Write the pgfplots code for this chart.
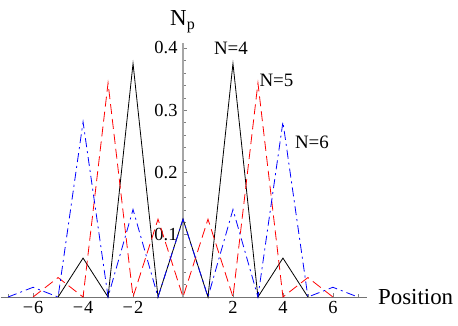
\documentclass[border=0pt]{standalone}
\usepackage{fontspec}
\setmainfont{Liberation Serif}
\usepackage{pgfplots}
\pgfplotsset{compat=1.18}
\begin{document}
\begin{tikzpicture}
\begin{axis}[
  anchor=origin, at={(0,0)},
  scale only axis, width=366bp, height=254bp,
  xmin=-7.3, xmax=7.35, ymin=0, ymax=0.408,
  axis lines=middle,
  axis line style={-},
  x axis line style={draw=black!55, line width=0.8bp},
  y axis line style={draw=black!35, line width=1.2bp},
  every tick/.style={draw=black!50, line width=0.5bp},
  major tick length=4bp, minor tick length=2.5bp,
  tick align=inside,
  xtick={-6,-4,-2,2,4,6},
  xticklabels={−\kern1pt6,−\kern1pt4,−\kern1pt2,2,4,6},
  minor xtick={-7,-5,-3,-1,1,3,5,7},
  ytick={0.1,0.2,0.3,0.4},
  yticklabels={0.1,0.2,0.3,0.4},
  minor ytick={0.02,0.04,0.06,0.08,0.12,0.14,0.16,0.18,0.22,0.24,0.26,0.28,0.32,0.34,0.36,0.38},
  xticklabel style={font=\fontsize{18.5}{20}\selectfont, anchor=north, yshift=-1bp},
  yticklabel style={font=\fontsize{18.5}{20}\selectfont, anchor=east, xshift=-2bp},
  clip=false,
]
\addplot[black, line width=0.8bp] coordinates {
(-5,0) (-4,0.0625) (-3,0) (-2,0.375) (-1,0) (0,0.125) (1,0) (2,0.375) (3,0) (4,0.0625) (5,0)};
\addplot[red, line width=0.8bp, dash pattern=on 10bp off 5bp] coordinates {
(-6,0) (-5,0.03125) (-4,0) (-3,0.34375) (-2,0) (-1,0.125) (0,0) (1,0.125) (2,0) (3,0.34375) (4,0) (5,0.03125) (6,0)};
\addplot[blue, line width=0.8bp, dash pattern=on 9bp off 4bp on 2bp off 4bp] coordinates {
(-7,0) (-6,0.015625) (-5,0) (-4,0.28125) (-3,0) (-2,0.140625) (-1,0) (0,0.125) (1,0) (2,0.140625) (3,0) (4,0.28125) (5,0) (6,0.015625) (7,0)};
\node[font=\fontsize{19}{21}\selectfont] at (axis cs:1.92,0.399) {N=4};
\node[font=\fontsize{19}{21}\selectfont] at (axis cs:3.74,0.348) {N=5};
\node[font=\fontsize{19}{21}\selectfont] at (axis cs:5.16,0.248) {N=6};
\node[font=\fontsize{23}{25}\selectfont, anchor=base west, inner sep=0pt] at (axis cs:7.8,-0.0128) {Position};
\node[font=\fontsize{23}{25}\selectfont, anchor=base west, inner sep=0pt] at (axis cs:-0.52,0.436) {N\textsubscript{p}};
\end{axis}
\pgfresetboundingbox
\path[use as bounding box] (-183bp,-29bp) rectangle (275bp,297bp);
\end{tikzpicture}
\end{document}
